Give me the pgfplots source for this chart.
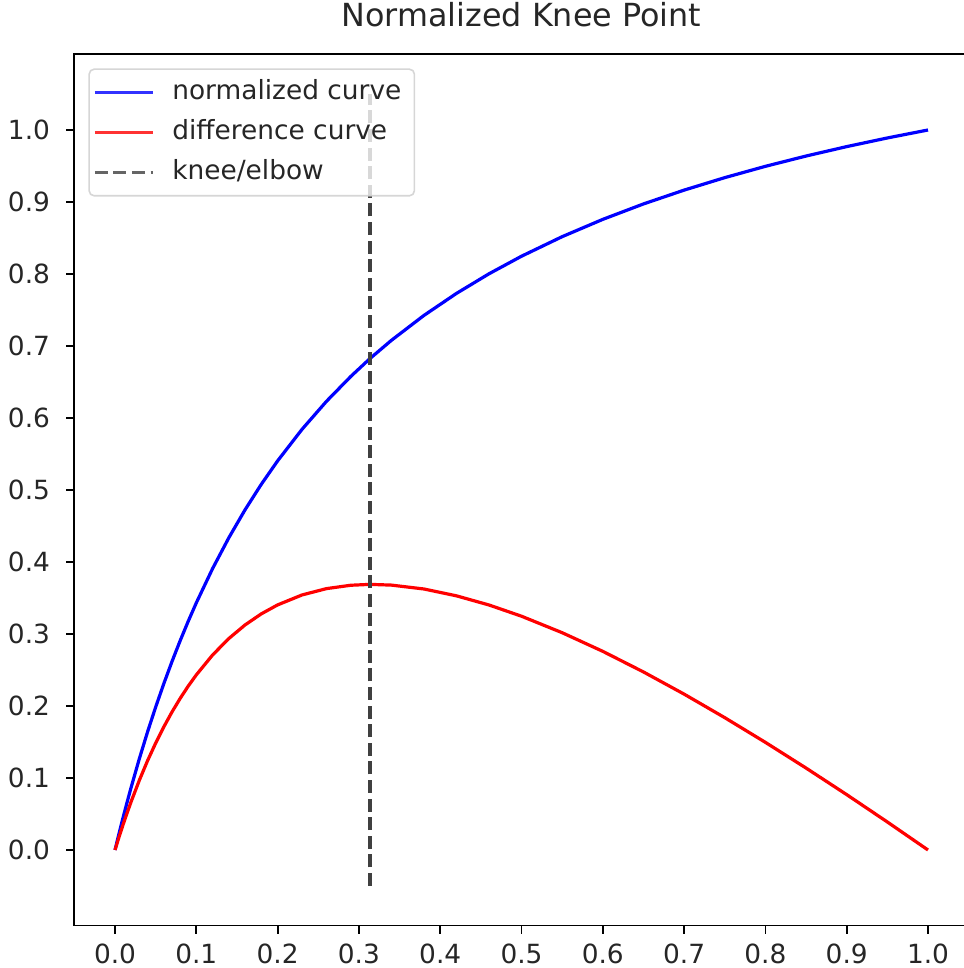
\documentclass[border=0pt]{standalone}
\usepackage{pgfplots}
\pgfplotsset{compat=1.18}
\usepackage{pgfplotstable}
\usepackage{fontspec}
\setmainfont{DejaVu Sans}

\pgfplotstableread{
x      y        d
0.000  0.00000  0.0000
0.005  0.02313  0.0181
0.010  0.04536  0.0354
0.015  0.06684  0.0518
0.020  0.08759  0.0676
0.030  0.12700  0.0970
0.040  0.16387  0.1239
0.050  0.19844  0.1484
0.060  0.23091  0.1709
0.070  0.26147  0.1915
0.080  0.29029  0.2103
0.090  0.31750  0.2275
0.100  0.34324  0.2432
0.120  0.39077  0.2708
0.140  0.43366  0.2937
0.160  0.47256  0.3126
0.180  0.50800  0.3280
0.200  0.54043  0.3404
0.230  0.58420  0.3542
0.260  0.62302  0.3630
0.290  0.65768  0.3677
0.3137 0.68264  0.3689
0.340  0.70787  0.3679
0.380  0.74246  0.3625
0.420  0.77304  0.3530
0.460  0.80027  0.3403
0.500  0.82468  0.3247
0.550  0.85183  0.3018
0.600  0.87586  0.2759
0.650  0.89728  0.2473
0.700  0.91649  0.2165
0.750  0.93382  0.1838
0.800  0.94953  0.1495
0.850  0.96384  0.1138
0.900  0.97692  0.0769
0.950  0.98893  0.0389
1.000  1.00000  0.0000
}\datatable

\begin{document}
\begin{tikzpicture}
\begin{axis}[
  scale only axis,
  width=447.15pt, height=435.6pt,
  xmin=-0.05, xmax=1.05,
  ymin=-0.105, ymax=1.105,
  xtick={0,0.1,0.2,0.3,0.4,0.5,0.6,0.7,0.8,0.9,1.0},
  ytick={0,0.1,0.2,0.3,0.4,0.5,0.6,0.7,0.8,0.9,1.0},
  /pgf/number format/assume math mode=true,
  /pgf/number format/fixed,
  /pgf/number format/fixed zerofill,
  /pgf/number format/precision=1,
  scaled ticks=false,
  tick label style={font=\fontsize{13.2pt}{15.8pt}\selectfont, inner sep=0pt, text=black!85},
  xticklabel style={yshift=-5pt},
  yticklabel style={xshift=-8pt},
  tick align=outside,
  tick pos=left,
  major tick length=4pt,
  tick style={black, line width=0.9pt},
  axis line style={black, line width=0.9pt},
  title={Normalized Knee Point},
  title style={at={(0.5,1)}, anchor=base, yshift=8pt, inner sep=0pt,
    font=\fontsize{15.9pt}{19pt}\selectfont, text=black!85},
  legend cell align=left,
  legend image code/.code={\draw[#1] (0pt,0pt) -- (29pt,0pt);},
  legend style={
    at={(0,1)}, anchor=north west, xshift=7pt, yshift=-7pt,
    draw=black!20, line width=0.8pt, rounded corners=2.5pt,
    fill=white, fill opacity=0.8, draw opacity=0.8, text opacity=1,
    inner xsep=2pt, inner ysep=5.5pt, row sep=7.7pt,
    font=\fontsize{13.2pt}{15.8pt}\selectfont, text=black!85,
    nodes={inner xsep=4.5pt, inner ysep=0pt, text height=9.5pt, text depth=2.8pt},
    /tikz/every odd column/.append style={column sep=4.5pt},
  },
]
\addplot[blue, line width=1.6pt, line join=round] table[x=x, y=y] {\datatable};
\addlegendentry{normalized curve}
\addplot[red, line width=1.6pt, line join=round] table[x=x, y=d] {\datatable};
\addlegendentry{difference curve}
\addplot[black!75, line width=1.6pt, dash pattern=on 6.5pt off 2.8pt] coordinates {(0.3137,-0.05) (0.3137,1.05)};
\addlegendentry{knee/elbow}
\coordinate (bl) at (axis cs:-0.14145,-0.16389);
\coordinate (tr) at (axis cs:1.04305,1.18056);
\end{axis}
\pgfresetboundingbox
\useasboundingbox (bl) rectangle (tr);
\end{tikzpicture}
\end{document}
